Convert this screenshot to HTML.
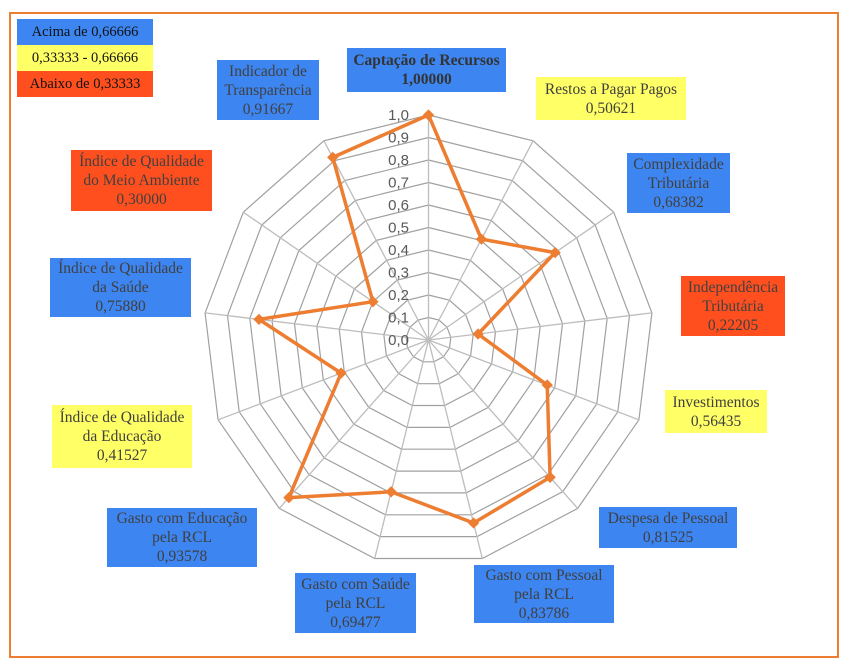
<!DOCTYPE html>
<html><head><meta charset="utf-8"><style>
body{margin:0;width:853px;height:671px;background:#fff;position:relative;overflow:hidden;font-family:"Liberation Serif",serif}
.f{position:absolute;left:9px;top:12px;width:830px;height:646px;border:2px solid #ed7d31;box-sizing:border-box}
.b{position:absolute;box-sizing:border-box;text-align:center;color:#404040;font-size:15.5px;line-height:19px;display:flex;align-items:center;justify-content:center;white-space:nowrap}
.B{background:#3d85f0}.Y{background:#ffff66}.R{background:#ff4f1f}
.l{position:absolute;left:17px;width:136px;height:26px;font-size:14.5px;line-height:26px;text-align:center;color:#111}
svg{position:absolute;left:0;top:0}
</style></head><body>
<div class="f"></div>
<div class="l B" style="top:19px">Acima de 0,66666</div>
<div class="l Y" style="top:45px">0,33333 - 0,66666</div>
<div class="l R" style="top:71px">Abaixo de 0,33333</div>
<svg id="s" width="853" height="671"></svg>
<div class="b B" style="left:217px;top:60px;width:102px;height:60px">Indicador de<br>Transparência<br>0,91667</div>
<div class="b B" style="left:347px;top:48px;width:159px;height:44px;font-weight:bold;color:#333">Captação de Recursos<br>1,00000</div>
<div class="b Y" style="left:536px;top:77px;width:150px;height:43px">Restos a Pagar Pagos<br>0,50621</div>
<div class="b B" style="left:627px;top:153px;width:103px;height:60px">Complexidade<br>Tributária<br>0,68382</div>
<div class="b R" style="left:681px;top:276px;width:104px;height:60px">Independência<br>Tributária<br>0,22205</div>
<div class="b Y" style="left:665px;top:390px;width:102px;height:43px">Investimentos<br>0,56435</div>
<div class="b B" style="left:599px;top:507px;width:138px;height:41px">Despesa de Pessoal<br>0,81525</div>
<div class="b B" style="left:474px;top:565px;width:140px;height:58px">Gasto com Pessoal<br>pela RCL<br>0,83786</div>
<div class="b B" style="left:295px;top:573px;width:121px;height:60px">Gasto com Saúde<br>pela RCL<br>0,69477</div>
<div class="b B" style="left:107px;top:508px;width:150px;height:59px">Gasto com Educação<br>pela RCL<br>0,93578</div>
<div class="b Y" style="left:52px;top:405px;width:140px;height:63px">Índice de Qualidade<br>da Educação<br>0,41527</div>
<div class="b B" style="left:50px;top:258px;width:141px;height:59px">Índice de Qualidade<br>da Saúde<br>0,75880</div>
<div class="b R" style="left:71px;top:150px;width:141px;height:61px">Índice de Qualidade<br>do Meio Ambiente<br>0,30000</div>
<script>
var cx=428.5,cy=340,R=225,n=13,v=[1,0.50621,0.68382,0.22205,0.56435,0.81525,0.83786,0.69477,0.93578,0.41527,0.7588,0.3,0.91667],h='';
function p(i,r){var a=i*2*Math.PI/n;return [(cx+r*Math.sin(a)).toFixed(1),(cy-r*Math.cos(a)).toFixed(1)];}
for(var k=1;k<=10;k++){var pts=[];for(var i=0;i<n;i++)pts.push(p(i,R*k/10).join(','));h+='<polygon points="'+pts.join(' ')+'" fill="none" stroke="#a0a0a0" stroke-width="1.2"/>';}
for(var i=0;i<n;i++){var q=p(i,R);h+='<line x1="'+cx+'" y1="'+cy+'" x2="'+q[0]+'" y2="'+q[1]+'" stroke="#bdbdbd" stroke-width="1.3"/>';}
for(var k=0;k<=10;k++){h+='<text x="409" y="'+(cy-R*k/10+5)+'" text-anchor="end" font-family="Liberation Sans,sans-serif" font-size="15" fill="#595959">'+(k==10?'1,0':'0,'+k)+'</text>';}
var pts=[];for(var i=0;i<n;i++)pts.push(p(i,R*v[i]).join(','));
h+='<polygon points="'+pts.join(' ')+'" fill="none" stroke="#ed7d31" stroke-width="3.5" stroke-linejoin="round"/>';
for(var i=0;i<n;i++){var q=p(i,R*v[i]);h+='<rect x="'+(q[0]-4)+'" y="'+(q[1]-4)+'" width="8" height="8" fill="#ed7d31" transform="rotate(45 '+q[0]+' '+q[1]+')"/>';}
document.getElementById('s').innerHTML=h;
</script>
</body></html>
